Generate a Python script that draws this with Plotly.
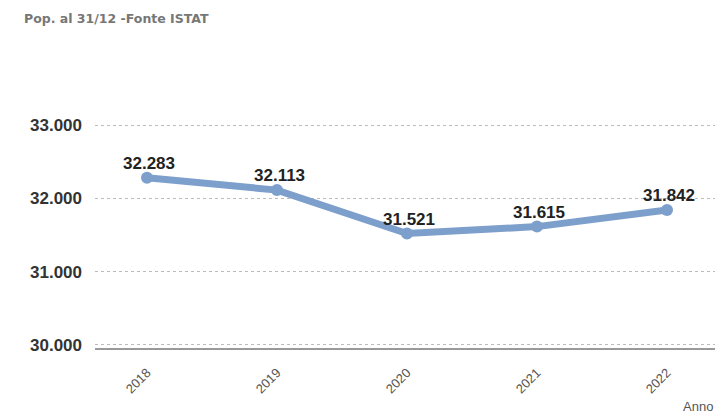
import plotly.graph_objects as go

years = ["2018", "2019", "2020", "2021", "2022"]
population = [32283, 32113, 31521, 31615, 31842]
y_ticks = [30000, 31000, 32000, 33000]
title_text = "Pop. al 31/12 -Fonte ISTAT"
x_title = "Anno"

fig = go.Figure()
fig.add_trace(go.Scatter(
    x=list(range(len(years))), y=population,
    mode="lines+markers",
    line=dict(color="#7d9fcc", width=7),
    marker=dict(color="#7d9fcc", size=12),
    showlegend=False,
))
for i, v in enumerate(population):
    fig.add_annotation(x=i, y=v, xref="x", yref="y", text="<b>" + f"{v:,}".replace(",", ".") + "</b>",
                       showarrow=False, yanchor="bottom", yshift=3, xshift=2,
                       font=dict(family="Liberation Sans, Arial", size=17, color="#222222"))

fig.update_layout(
    width=715, height=417,
    margin=dict(l=95, r=0, t=88, b=69),
    paper_bgcolor="white", plot_bgcolor="white",
    separators=",.",
    font=dict(family="Liberation Sans, Arial", color="#555555"),
)
fig.add_annotation(text="<b>" + title_text + "</b>", xref="paper", yref="paper",
                   x=(22 - 95) / 620, y=1 + (88 - 18) / 260, xanchor="left", yanchor="middle",
                   showarrow=False, font=dict(family="DejaVu Sans", size=12.5, color="#777777"))
fig.add_annotation(text=x_title, xref="paper", yref="paper",
                   x=1.0, y=-(406 - 348) / 260, xanchor="right", yanchor="middle",
                   showarrow=False, font=dict(family="Liberation Sans, Arial", size=13, color="#555555"))

fig.update_xaxes(
    range=[-0.4, -0.4 + 620 / 130],
    tickmode="array", tickvals=list(range(len(years))), ticktext=years,
    tickangle=-45, tickfont=dict(size=13, color="#555555"),
    ticklabelstandoff=10,
    showgrid=False, zeroline=False,
    showline=True, linecolor="#999999", linewidth=2,
    ticks="",
)
fig.update_yaxes(
    range=[29959, 33506],
    tickmode="array", tickvals=y_ticks, tickformat=",.0f",
    tickfont=dict(size=17, color="#333333", weight="bold"),
    showgrid=True, gridcolor="#bbbbbb", griddash="dot", gridwidth=1,
    zeroline=False, ticks="", ticklabelstandoff=12,
)

fig.write_html("out.html")
